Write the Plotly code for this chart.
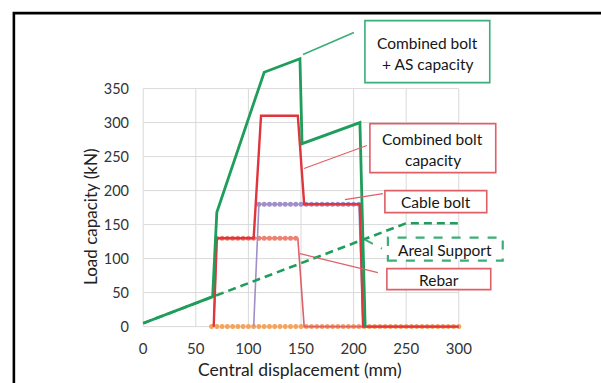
import plotly.graph_objects as go

# ---------------- data ----------------
disp_comb_as = [0, 66, 70, 115, 149, 151, 206, 211]
load_comb_as = [5, 44, 168, 374, 394, 269, 300, 0]

disp_comb = [67, 70, 105, 112, 147, 153, 206, 209, 300]
load_comb = [0, 130, 130, 310, 310, 180, 180, 0, 0]

disp_rebar = [67, 70, 147, 153, 300]
load_rebar = [0, 130, 130, 0, 0]
rebar_mark_disp = [70, 75, 80, 85, 90, 95, 100, 105, 110, 115, 120, 125, 130, 135, 140, 145]
rebar_mark_load = [130] * 16

disp_cable = [105, 110, 205, 209]
load_cable = [0, 180, 180, 0]
cable_mark_disp = [110, 115, 120, 125, 130, 135, 140, 145, 150, 155, 160, 165, 170, 175,
                   180, 185, 190, 195, 200, 205]
cable_mark_load = [180] * 20

zero_mark_disp = [65, 70, 75, 80, 85, 90, 95, 100, 105, 110, 115, 120, 125, 130, 135, 140,
                  145, 150, 155, 160, 165, 170, 175, 180, 185, 190, 195, 200, 205, 210,
                  215, 220, 225, 230, 235, 240, 245, 250, 255, 260, 265, 270, 275, 280,
                  285, 290, 295, 300]
zero_mark_load = [0] * 48

disp_areal = [0, 250, 300]
load_areal = [5, 152, 152]

x_ticks = [0, 50, 100, 150, 200, 250, 300]
y_ticks = [0, 50, 100, 150, 200, 250, 300, 350]

# ---------------- styles ----------------
GREEN = "#1E9E5A"
GREEN_BOX = "#3AAE78"
RED = "#E0353D"
PINK = "#DE5F66"
PURPLE = "#A08FC8"
ORANGE = "#F3A55E"
SALMON = "#EE8272"
FONT = "Lato"

W, H = 601, 383
PXU_X = 316 / 300.0
PXU_Y = 0.68
X0PX, Y0PX = 143.0, 327.0
XR = [-4, 304]
YR = [-5, 420]
L = X0PX + XR[0] * PXU_X
R = W - (X0PX + XR[1] * PXU_X)
B = H - (Y0PX - YR[0] * PXU_Y)
T = Y0PX - YR[1] * PXU_Y
PW = W - L - R
PH = H - T - B


def px(x):
    return (x - L) / PW


def py(y):
    return (H - B - y) / PH


fig = go.Figure()

fig.add_trace(go.Scatter(x=zero_mark_disp, y=zero_mark_load, mode="markers",
                         marker=dict(color=ORANGE, size=5), cliponaxis=False,
                         showlegend=False, hoverinfo="skip"))
fig.add_trace(go.Scatter(x=disp_rebar, y=load_rebar, mode="lines",
                         line=dict(color=PINK, width=1.6), showlegend=False))
fig.add_trace(go.Scatter(x=rebar_mark_disp, y=rebar_mark_load, mode="markers",
                         marker=dict(color=SALMON, size=5), showlegend=False))
fig.add_trace(go.Scatter(x=disp_cable, y=load_cable, mode="lines",
                         line=dict(color=PURPLE, width=1.6), showlegend=False))
fig.add_trace(go.Scatter(x=cable_mark_disp, y=cable_mark_load, mode="markers",
                         marker=dict(color=PURPLE, size=5), showlegend=False))
fig.add_trace(go.Scatter(x=disp_comb, y=load_comb, mode="lines",
                         line=dict(color=RED, width=2.4), showlegend=False))
fig.add_trace(go.Scatter(x=disp_areal, y=load_areal, mode="lines",
                         line=dict(color=GREEN, width=2.6, dash="8px,5px"), showlegend=False))
fig.add_trace(go.Scatter(x=disp_comb_as, y=load_comb_as, mode="lines",
                         line=dict(color=GREEN, width=2.8), showlegend=False))

shapes = []
# gridlines (limited to the Excel plot area 0..300 x 0..350)
for xv in x_ticks:
    shapes.append(dict(type="line", xref="x", yref="y", x0=xv, x1=xv, y0=0, y1=350,
                       line=dict(color="#D9D9D9", width=1), layer="below"))
for yv in y_ticks:
    shapes.append(dict(type="line", xref="x", yref="y", x0=0, x1=300, y0=yv, y1=yv,
                       line=dict(color="#D9D9D9", width=1), layer="below"))

# outer black frame
shapes.append(dict(type="rect", xref="paper", yref="paper",
                   x0=px(13.5), x1=px(640), y0=py(420), y1=py(13.5),
                   line=dict(color="black", width=2.6), layer="above"))

# callout boxes
boxes = [
    (365, 21, 490, 83, GREEN_BOX, "solid"),
    (370, 124, 496, 173, PINK, "solid"),
    (385, 191, 487, 213, PINK, "solid"),
    (388, 238, 503, 261, GREEN_BOX, "dash"),
    (387, 269, 491, 290, PINK, "solid"),
]
for x0, y0, x1, y1, c, d in boxes:
    shapes.append(dict(type="rect", xref="paper", yref="paper",
                       x0=px(x0), x1=px(x1), y0=py(y1), y1=py(y0),
                       fillcolor="white",
                       line=dict(color=c, width=1.6 if d == "solid" else 2.2, dash=d),
                       layer="above"))

# leader lines
leaders = [
    (303, 55, 354, 33, GREEN_BOX, 1.6, "solid"),
    (304, 169, 367, 146, PINK, 1.1, "solid"),
    (345, 200, 383, 194, PINK, 1.1, "solid"),
    (365, 240, 382, 249, GREEN_BOX, 2.0, "dash"),
    (300, 254, 378, 273, PINK, 1.1, "solid"),
]
for x0, y0, x1, y1, c, w, d in leaders:
    shapes.append(dict(type="line", xref="paper", yref="paper",
                       x0=px(x0), x1=px(x1), y0=py(y0), y1=py(y1),
                       line=dict(color=c, width=w, dash=d), layer="above"))

annotations = []
texts = [
    (427.5, 43, "Combined bolt"),
    (427.5, 64, "+ AS capacity"),
    (433, 139, "Combined bolt"),
    (433, 160, "capacity"),
    (436, 202, "Cable bolt"),
    (445.5, 250, "Areal Support"),
    (439, 280, "Rebar"),
]
for x, y, t in texts:
    annotations.append(dict(xref="paper", yref="paper", x=px(x), y=py(y), text=t,
                            showarrow=False, xanchor="center", yanchor="middle",
                            font=dict(family=FONT, size=15.5, color="#161616")))

# axis titles
annotations.append(dict(xref="paper", yref="paper", x=px(90), y=py(217),
                        text="Load capacity (kN)", textangle=-90, showarrow=False,
                        xanchor="center", yanchor="middle",
                        font=dict(family=FONT, size=17, color="#222222")))
annotations.append(dict(xref="paper", yref="paper", x=px(300), y=py(370),
                        text="Central displacement (mm)", showarrow=False,
                        xanchor="center", yanchor="middle",
                        font=dict(family=FONT, size=17.5, color="#222222")))

fig.update_layout(
    width=W, height=H, autosize=False,
    margin=dict(l=L, r=R, t=T, b=B, pad=0),
    paper_bgcolor="white", plot_bgcolor="white",
    shapes=shapes, annotations=annotations, showlegend=False,
    font=dict(family=FONT),
)
fig.update_xaxes(range=XR, tickvals=x_ticks, showgrid=False, zeroline=False,
                 showline=False, ticks="", automargin=False, ticklabelstandoff=8,
                 tickfont=dict(family=FONT, size=15, color="#333333"))
fig.update_yaxes(range=YR, tickvals=y_ticks, showgrid=False, zeroline=False,
                 showline=False, ticks="", automargin=False, ticklabelstandoff=9,
                 tickfont=dict(family=FONT, size=14.5, color="#333333"))

fig.write_html("out.html")
